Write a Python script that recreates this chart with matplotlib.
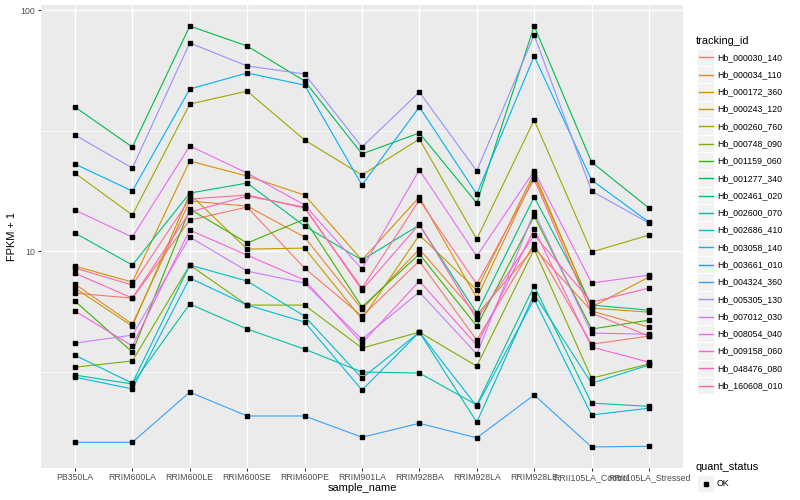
import numpy as np
import matplotlib
matplotlib.use("Agg")
import matplotlib.pyplot as plt
from matplotlib.patches import Rectangle
from matplotlib.ticker import FixedLocator, NullFormatter

plt.rcParams['font.family'] = ['Liberation Sans', 'DejaVu Sans']

samples = ["PB350LA", "RRIM600LA", "RRIM600LE", "RRIM600SE", "RRIM600PE",
           "RRIM901LA", "RRIM928BA", "RRIM928LA", "RRIM928LE",
           "RRII105LA_Control", "RRII105LA_Stressed"]

tracking_ids = ["Hb_000030_140", "Hb_000034_110", "Hb_000172_360", "Hb_000243_120",
                "Hb_000260_760", "Hb_000748_090", "Hb_001159_060", "Hb_001277_340",
                "Hb_002461_020", "Hb_002600_070", "Hb_002686_410", "Hb_003058_140",
                "Hb_003661_010", "Hb_004324_360", "Hb_005305_130", "Hb_007012_030",
                "Hb_008054_040", "Hb_009158_060", "Hb_048476_080", "Hb_160608_010"]

colors = ["#F8766D", "#EA8331", "#D89000", "#C09B00", "#A3A500", "#7CAE00", "#39B600",
          "#00BB4E", "#00BF7D", "#00C1A3", "#00BFC4", "#00BAE0", "#00B0F6", "#35A2FF",
          "#9590FF", "#C77CFF", "#E76BF3", "#FA62DB", "#FF62BC", "#FF6C91"]

# FPKM + 1 values, one list per gene, in the order of `samples`
Hb_000030_140 = [6.69, 6.38, 13.45, 15.22, 8.50, 5.37, 9.09, 4.27, 10.69, 4.11, 4.44]
Hb_000034_110 = [7.30, 4.98, 16.12, 15.37, 11.43, 5.74, 10.19, 5.43, 10.29, 5.64, 4.84]
Hb_000172_360 = [8.66, 7.44, 23.63, 20.47, 17.08, 9.18, 16.75, 6.38, 20.47, 5.86, 7.80]
Hb_000243_120 = [7.02, 4.88, 17.24, 10.19, 10.29, 5.22, 11.65, 6.89, 21.07, 5.80, 5.58]
Hb_000260_760 = [21.07, 14.11, 40.7, 46.1, 28.9, 20.67, 29.15, 11.21, 34.97, 9.91, 11.65]
Hb_000748_090 = [3.30, 3.50, 8.75, 5.97, 5.97, 3.96, 4.61, 3.33, 10.19, 2.97, 3.40]
Hb_001159_060 = [6.20, 3.81, 14.94, 10.80, 13.57, 5.86, 9.72, 4.88, 13.97, 4.75, 5.17]
Hb_001277_340 = [39.6, 27.0, 85.8, 70.9, 50.8, 25.3, 30.9, 15.82, 85.8, 23.4, 15.08]
Hb_002461_020 = [11.88, 8.75, 17.40, 19.15, 12.70, 9.18, 12.82, 5.53, 16.75, 5.97, 5.69]
Hb_002600_070 = [3.06, 2.81, 6.03, 4.75, 3.92, 3.15, 3.12, 2.30, 7.16, 2.34, 2.27]
Hb_002686_410 = [3.70, 2.83, 8.75, 7.51, 5.37, 2.97, 4.61, 1.95, 6.63, 2.83, 3.37]
Hb_003058_140 = [3.00, 2.68, 7.73, 5.97, 5.08, 2.65, 4.61, 2.27, 6.32, 2.09, 2.23]
Hb_003661_010 = [22.96, 17.74, 47.0, 54.8, 48.8, 18.79, 39.6, 17.24, 64.4, 19.71, 13.19]
Hb_004324_360 = [1.61, 1.61, 2.60, 2.07, 2.07, 1.69, 1.93, 1.68, 2.53, 1.54, 1.55]
Hb_005305_130 = [30.3, 22.1, 73.0, 58.6, 54.3, 27.0, 45.7, 21.5, 78.8, 17.74, 13.07]
Hb_007012_030 = [4.15, 4.48, 11.43, 8.26, 7.37, 4.31, 6.76, 3.74, 14.52, 4.57, 4.52]
Hb_008054_040 = [14.80, 11.43, 27.3, 21.07, 15.52, 8.42, 21.7, 9.53, 21.5, 7.37, 7.95]
Hb_009158_060 = [5.64, 4.04, 12.22, 9.62, 7.58, 4.15, 7.51, 4.07, 12.34, 4.00, 3.46]
Hb_048476_080 = [8.10, 6.38, 14.52, 16.92, 15.22, 6.89, 12.94, 5.22, 11.65, 6.14, 7.02]
Hb_160608_010 = [8.50, 7.23, 16.44, 17.08, 15.08, 7.02, 16.28, 7.30, 19.90, 5.53, 4.44]

series = [Hb_000030_140, Hb_000034_110, Hb_000172_360, Hb_000243_120, Hb_000260_760,
          Hb_000748_090, Hb_001159_060, Hb_001277_340, Hb_002461_020, Hb_002600_070,
          Hb_002686_410, Hb_003058_140, Hb_003661_010, Hb_004324_360, Hb_005305_130,
          Hb_007012_030, Hb_008054_040, Hb_009158_060, Hb_048476_080, Hb_160608_010]

W, H = 800, 500
fig = plt.figure(figsize=(W / 100, H / 100), dpi=100)
px_l, px_r, px_t, px_b = 40.5, 683.4, 5.0, 468.0
ax = fig.add_axes([px_l / W, 1 - px_b / H, (px_r - px_l) / W, (px_b - px_t) / H])
ax.set_facecolor('#EBEBEB')

x = np.arange(len(samples))
for vals, c in zip(series, colors):
    ax.plot(x, vals, color=c, lw=0.8, zorder=3, solid_joinstyle='round')
for vals in series:
    ax.plot(x, vals, ls='none', marker='s', ms=2.4, color='black', zorder=4)

ax.set_yscale('log')
allv = np.log10(np.concatenate([np.asarray(s, float) for s in series]))
lo, hi = allv.min(), allv.max()
pad = 0.05 * (hi - lo)
ax.set_ylim(10 ** (lo - pad), 10 ** (hi + pad))
ax.set_xlim(-0.6, len(samples) - 1 + 0.6)

ax.yaxis.set_major_locator(FixedLocator([10, 100]))
ax.set_yticklabels(['10', '100'])
ax.yaxis.set_minor_locator(FixedLocator([10 ** 0.5, 10 ** 1.5]))
ax.yaxis.set_minor_formatter(NullFormatter())
ax.set_xticks(x)
ax.set_xticklabels(samples)

ax.grid(which='major', color='white', lw=1.0, zorder=0)
ax.grid(which='minor', axis='y', color='white', lw=0.5, zorder=0)
ax.set_axisbelow(True)
for s in ax.spines.values():
    s.set_visible(False)
ax.tick_params(which='major', length=2.0, width=0.75, color='#333333',
               labelsize=6.3, labelcolor='#4D4D4D', pad=1.6)
ax.tick_params(which='minor', length=0)

fig.text(362 / W, 1 - 488 / H, 'sample_name', ha='center', va='center', fontsize=7.9)
fig.text(12.5 / W, 1 - 236.5 / H, 'FPKM + 1', ha='center', va='center',
         rotation=90, fontsize=7.9)

# legends drawn in pixel coordinates
lax = fig.add_axes([0, 0, 1, 1])
lax.set_xlim(0, W)
lax.set_ylim(H, 0)
lax.axis('off')
lax.patch.set_alpha(0)

key = 17.28
kx = 697.0
lax.text(696, 40.5, 'tracking_id', fontsize=7.9, ha='left', va='center')
for i, (tid, c) in enumerate(zip(tracking_ids, colors)):
    cy = 57.3 + i * key
    lax.add_patch(Rectangle((kx, cy - key / 2), key, key, fc='#F2F2F2', ec='white',
                            lw=0.8, zorder=1))
    lax.plot([kx + 1.7, kx + key - 1.7], [cy, cy], color=c, lw=1.0, zorder=3)
    lax.text(717, cy, tid, fontsize=6.3, ha='left', va='center')

lax.text(696, 467, 'quant_status', fontsize=7.9, ha='left', va='center')
cy = 483.5
lax.add_patch(Rectangle((kx, cy - key / 2), key, key, fc='#F2F2F2', ec='white',
                        lw=0.8, zorder=1))
lax.plot([kx + key / 2], [cy], ls='none', marker='s', ms=2.4, color='black', zorder=3)
lax.text(717, cy, 'OK', fontsize=6.3, ha='left', va='center')

fig.savefig('out.png', dpi=100)
